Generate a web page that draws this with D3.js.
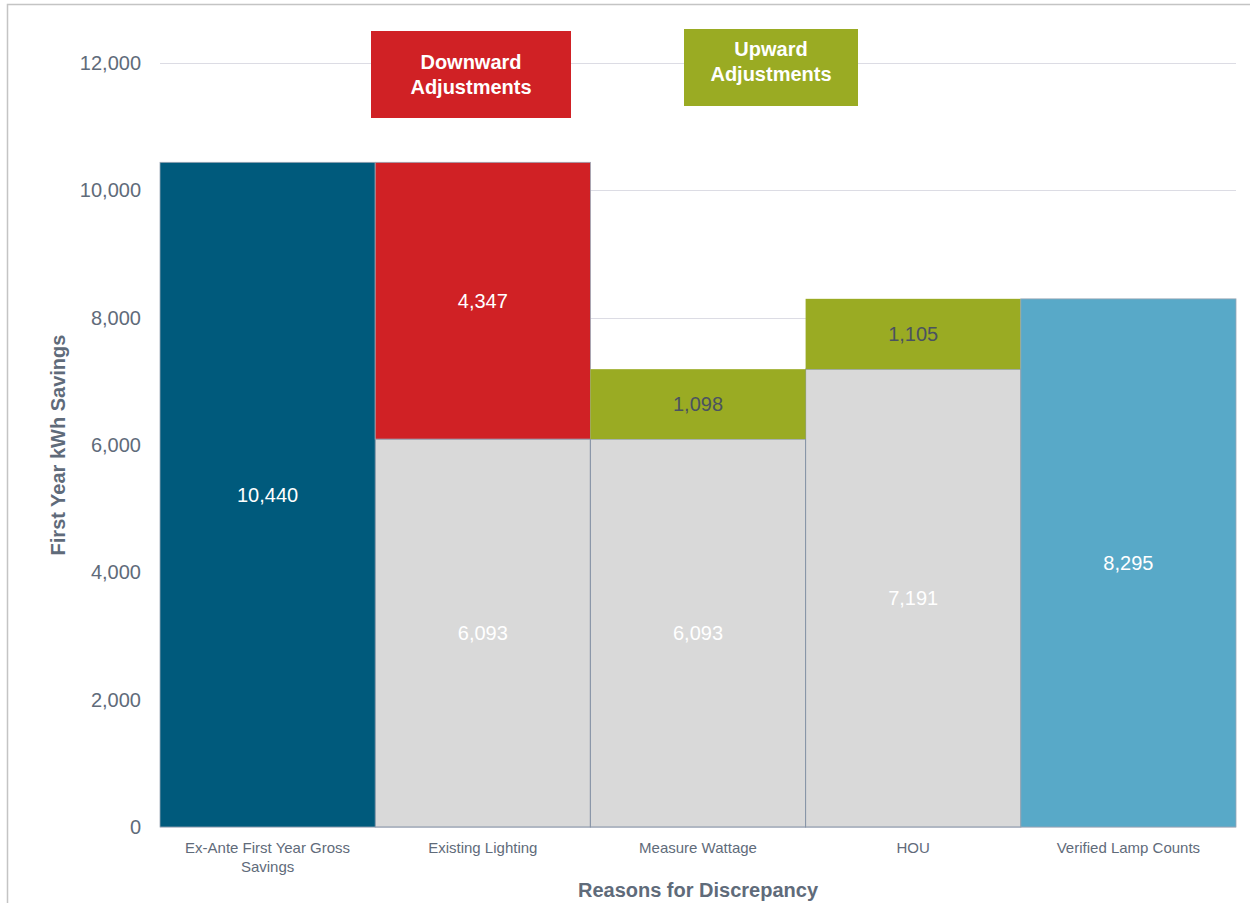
<!DOCTYPE html>
<html>
<head>
<meta charset="utf-8">
<script src="https://cdn.jsdelivr.net/npm/d3@7"></script>
<style>
    body { margin: 0; background: #fff; }
    text { font-family: "Liberation Sans", Arial, sans-serif; }
</style>
</head>
<body>
<svg id="view" width="1250" height="903"></svg>
<script>
const Categories = [
    'Ex-Ante First Year Gross Savings',
    'Existing Lighting',
    'Measure Wattage',
    'HOU',
    'Verified Lamp Counts'
];

// grey base under each adjustment
const BaseValues = [0, 6093, 6093, 7191, 0];
// the visible segment on top of the base
const DeltaValues = [10440, 4347, 1098, 1105, 8295];
const DeltaKinds = ['total', 'down', 'up', 'up', 'final'];

const YTicks = [0, 2000, 4000, 6000, 8000, 10000, 12000];

const Colors = {
    total: '#005a7c',
    down: '#d02125',
    up: '#9aab23',
    final: '#58a9c8',
    base: '#d9d9d9'
};

const svg = d3.select('svg#view');

// outer frame
svg.append('path')
    .attr('d', 'M7.5,903 L7.5,4.5 L1250,4.5')
    .attr('fill', 'none')
    .attr('stroke', '#c4c4c4')
    .attr('stroke-width', 1.5);

const plotLeft = 160, plotRight = 1236, plotTop = 63, plotBottom = 827;

const x = d3.scaleBand()
    .domain(Categories)
    .range([plotLeft, plotRight])
    .padding(0);

const y = d3.scaleLinear()
    .domain([0, 12000])
    .range([plotBottom, plotTop]);

// gridlines
svg.append('g')
    .selectAll('line')
    .data(YTicks)
    .enter()
    .append('line')
    .attr('x1', plotLeft)
    .attr('x2', plotRight)
    .attr('y1', d => Math.round(y(d)) + 0.5)
    .attr('y2', d => Math.round(y(d)) + 0.5)
    .attr('stroke', '#dcdce4')
    .attr('stroke-width', 1.2);

// y tick labels
svg.append('g')
    .selectAll('text')
    .data(YTicks)
    .enter()
    .append('text')
    .attr('x', 141)
    .attr('y', d => y(d))
    .attr('dy', '0.35em')
    .attr('text-anchor', 'end')
    .attr('font-size', 20)
    .attr('fill', '#5f6b7a')
    .text(d3.format(','));

const bars = svg.append('g');

// grey bases
bars.selectAll('rect.base')
    .data(Categories.filter((c, i) => BaseValues[i] > 0))
    .enter()
    .append('rect')
    .attr('class', 'base')
    .attr('x', c => x(c))
    .attr('width', x.bandwidth())
    .attr('y', c => y(BaseValues[Categories.indexOf(c)]))
    .attr('height', c => plotBottom - y(BaseValues[Categories.indexOf(c)]))
    .attr('fill', Colors.base)
    .attr('stroke', '#8593a6')
    .attr('stroke-width', 1);

// visible segments
bars.selectAll('rect.delta')
    .data(Categories)
    .enter()
    .append('rect')
    .attr('class', 'delta')
    .attr('x', c => x(c))
    .attr('width', x.bandwidth())
    .attr('y', (c, i) => y(BaseValues[i] + DeltaValues[i]))
    .attr('height', (c, i) => y(BaseValues[i]) - y(BaseValues[i] + DeltaValues[i]))
    .attr('fill', (c, i) => Colors[DeltaKinds[i]])
    .attr('stroke', (c, i) => DeltaKinds[i] === 'up' ? 'none' : '#9aa6b4')
    .attr('stroke-width', 0.8);

// value labels
const labels = svg.append('g')
    .attr('font-size', 20)
    .attr('text-anchor', 'middle');

labels.selectAll('text.base')
    .data(Categories.filter((c, i) => BaseValues[i] > 0))
    .enter()
    .append('text')
    .attr('x', c => x(c) + x.bandwidth() / 2)
    .attr('y', c => y(BaseValues[Categories.indexOf(c)] / 2))
    .attr('dy', '0.35em')
    .attr('fill', '#ffffff')
    .text(c => d3.format(',')(BaseValues[Categories.indexOf(c)]));

labels.selectAll('text.delta')
    .data(Categories)
    .enter()
    .append('text')
    .attr('x', c => x(c) + x.bandwidth() / 2)
    .attr('y', (c, i) => y(BaseValues[i] + DeltaValues[i] / 2))
    .attr('dy', '0.35em')
    .attr('fill', (c, i) => DeltaKinds[i] === 'up' ? '#4a5260' : '#ffffff')
    .text((c, i) => d3.format(',')(DeltaValues[i]));

// category labels
const catLines = {
    'Ex-Ante First Year Gross Savings': ['Ex-Ante First Year Gross', 'Savings']
};
svg.append('g')
    .selectAll('text')
    .data(Categories)
    .enter()
    .append('text')
    .attr('x', c => x(c) + x.bandwidth() / 2)
    .attr('y', 853)
    .attr('text-anchor', 'middle')
    .attr('font-size', 15)
    .attr('fill', '#5f6b7a')
    .each(function(c) {
        const lines = catLines[c] || [c];
        d3.select(this)
            .selectAll('tspan')
            .data(lines)
            .enter()
            .append('tspan')
            .attr('x', x(c) + x.bandwidth() / 2)
            .attr('dy', (d, i) => i === 0 ? 0 : 19)
            .text(d => d);
    });

// axis titles
svg.append('text')
    .attr('x', 698)
    .attr('y', 897)
    .attr('text-anchor', 'middle')
    .attr('font-size', 20)
    .attr('font-weight', 'bold')
    .attr('fill', '#5f6b7a')
    .text('Reasons for Discrepancy');

svg.append('text')
    .attr('transform', 'translate(65,445) rotate(-90)')
    .attr('text-anchor', 'middle')
    .attr('font-size', 20)
    .attr('font-weight', 'bold')
    .attr('fill', '#5f6b7a')
    .text('First Year kWh Savings');

// legend boxes
const legend = [
    { lines: ['Downward', 'Adjustments'], color: Colors.down, x: 371, y: 31, w: 200, h: 87, ty: 69 },
    { lines: ['Upward', 'Adjustments'], color: Colors.up, x: 684, y: 29, w: 174, h: 77, ty: 56 }
];
const lg = svg.append('g')
    .selectAll('g')
    .data(legend)
    .enter()
    .append('g');
lg.append('rect')
    .attr('x', d => d.x)
    .attr('y', d => d.y)
    .attr('width', d => d.w)
    .attr('height', d => d.h)
    .attr('fill', d => d.color);
lg.append('text')
    .attr('text-anchor', 'middle')
    .attr('font-size', 20)
    .attr('font-weight', 'bold')
    .attr('fill', '#ffffff')
    .each(function(d) {
        d3.select(this)
            .selectAll('tspan')
            .data(d.lines)
            .enter()
            .append('tspan')
            .attr('x', d.x + d.w / 2)
            .attr('y', (l, i) => d.ty + i * 25)
            .text(l => l);
    });
</script>
</body>
</html>
